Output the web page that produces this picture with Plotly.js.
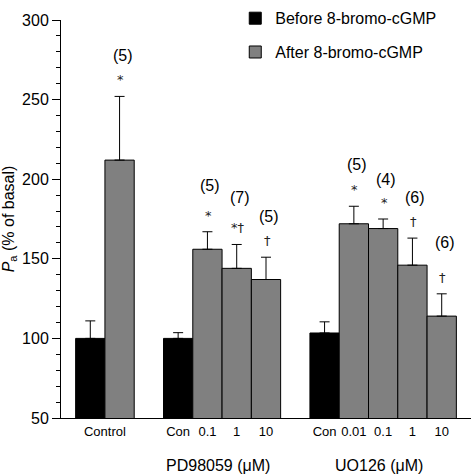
<!DOCTYPE html>
<html>
<head>
<meta charset="utf-8">
<script src="https://cdn.plot.ly/plotly-3.0.1.min.js"></script>
<style>html,body{margin:0;padding:0;background:#fff;}#chart{width:472px;height:476px;}</style>
</head>
<body>
<div id="chart"></div>
<script>
// ---- data ----
const groupNames = ['Control', 'PD98059 (μM)', 'UO126 (μM)'];
const controlLabels = ['Control', 'Con', 'Con'];
const doseLabels = [[], ['0.1', '1', '10'], ['0.01', '0.1', '1', '10']];
const beforeValues = [100, 100, 103.4];
const beforeErrors = [11, 3.6, 7];
const afterValues = [[212], [156, 144, 137], [172, 169, 146, 114]];
const afterErrors = [[40], [11, 15, 14], [11, 6, 17, 14]];
const nLabels = [['(5)'], ['(5)', '(7)', '(5)'], ['(5)', '(4)', '(6)', '(6)']];
const sigLabels = [['*'], ['*', '*†', '†'], ['*', '*', '†', '†']];

// ---- layout helpers (pixel lifts for the n labels above the caps) ----
const nLift = [[41], [46, 47, 41], [42, 40, 41, 51]];

const FONT = '"Liberation Sans", Arial, Helvetica, sans-serif';
const SYMFONT = '"DejaVu Sans", "Liberation Sans", sans-serif';

let pos = 0;
const bx = [], by = [], be = [];
const ax = [], ay = [], ae = [];
const tickvals = [], ticktext = [];
const annotations = [];
groupNames.forEach((g, gi) => {
  const start = pos;
  bx.push(pos); by.push(beforeValues[gi]); be.push(beforeErrors[gi]);
  const nAfter = afterValues[gi].length;
  if (doseLabels[gi].length === 0) {
    tickvals.push(pos + 0.5); ticktext.push(controlLabels[gi]);
  } else {
    tickvals.push(pos); ticktext.push(controlLabels[gi]);
  }
  pos += 1;
  for (let k = 0; k < nAfter; k++) {
    ax.push(pos); ay.push(afterValues[gi][k]); ae.push(afterErrors[gi][k]);
    if (doseLabels[gi].length) { tickvals.push(pos); ticktext.push(doseLabels[gi][k]); }
    const top = afterValues[gi][k] + afterErrors[gi][k];
    annotations.push({x: pos, y: top, xref: 'x', yref: 'y', text: sigLabels[gi][k],
      showarrow: false, yanchor: 'middle', yshift: 16.5, xshift: 1,
      font: {family: SYMFONT, size: 13, color: '#222222'}});
    annotations.push({x: pos, y: top, xref: 'x', yref: 'y', text: nLabels[gi][k],
      showarrow: false, yanchor: 'middle', yshift: nLift[gi][k], xshift: 3,
      font: {family: FONT, size: 16, color: '#000'}});
    pos += 1;
  }
  const end = pos - 1;
  if (gi > 0) {
    annotations.push({x: (start + end) / 2, y: 0, xref: 'x', yref: 'paper', text: g,
      showarrow: false, yanchor: 'middle', yshift: -47, xshift: -4,
      font: {family: FONT, size: 16, color: '#000'}});
  }
  pos += 1; // gap
});
const xmax = pos - 1;

const traces = [
  {type: 'bar', name: 'Before 8-bromo-cGMP', x: bx, y: by, width: 1,
   marker: {color: '#000000', line: {color: '#000', width: 1}},
   error_y: {type: 'data', symmetric: false, array: be, arrayminus: be.map(() => 0),
     color: '#000', thickness: 1, width: 5}, legendgroup: 'a'},
  {type: 'bar', name: 'After 8-bromo-cGMP', x: ax, y: ay, width: 1,
   marker: {color: '#808080', line: {color: '#000', width: 1}},
   error_y: {type: 'data', symmetric: false, array: ae, arrayminus: ae.map(() => 0),
     color: '#000', thickness: 1, width: 5}, legendgroup: 'b'}
];

const layout = {
  width: 472, height: 476,
  margin: {l: 61, r: 1, t: 11, b: 58, pad: 0},
  paper_bgcolor: '#fff', plot_bgcolor: '#fff',
  font: {family: FONT, color: '#000'},
  barmode: 'overlay',
  showlegend: true,
  legend: {x: 0.425, y: 1.047, xanchor: 'left', yanchor: 'top', bgcolor: 'rgba(0,0,0,0)',
    font: {family: FONT, size: 16}, tracegroupgap: 10, traceorder: 'grouped'},
  xaxis: {range: [-1, xmax], tickvals: tickvals, ticktext: ticktext, ticks: '',
    showgrid: false, zeroline: false, showline: true, linecolor: '#000', linewidth: 1,
    tickfont: {family: FONT, size: 13}, ticklabelstandoff: 1, fixedrange: true},
  xaxis2: {range: [-1, xmax], overlaying: 'x', anchor: 'y', side: 'bottom',
    tickvals: [-1, xmax], showticklabels: false, ticks: 'outside', ticklen: 7, tickcolor: '#000',
    showgrid: false, zeroline: false, showline: false},
  yaxis: {range: [50, 300], tick0: 50, dtick: 50, ticks: 'outside', ticklen: 8, tickwidth: 1,
    tickcolor: '#000', showgrid: false, zeroline: false, showline: true, linecolor: '#000',
    linewidth: 1, tickfont: {family: FONT, size: 16},
    minor: {dtick: 10, ticks: 'outside', ticklen: 4, tickcolor: '#000', showgrid: false},
    title: {text: '<i>P</i><sub>a</sub> (% of basal)', font: {family: FONT, size: 16}, standoff: 4}},
  annotations: annotations
};

Plotly.newPlot('chart', traces, layout, {staticPlot: true, displayModeBar: false});
</script>
</body>
</html>
